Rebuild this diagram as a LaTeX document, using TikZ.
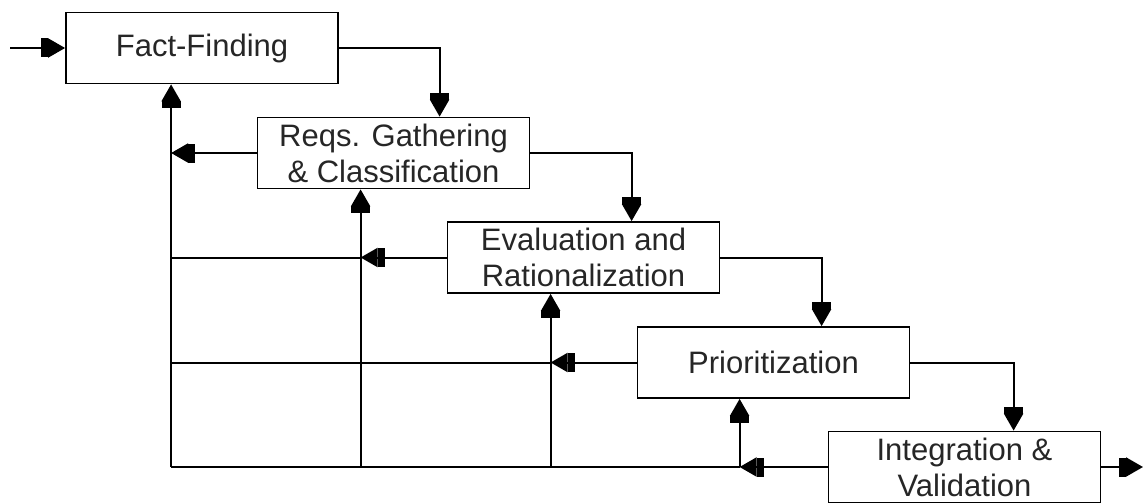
\documentclass[tikz,border=0pt]{standalone}
\usepackage{fontspec}
\setmainfont{Liberation Sans}
\usetikzlibrary{arrows.meta}
\begin{document}
\begin{tikzpicture}[x=1pt,y=-1pt,
  blk/.style={draw=black,line width=1.8pt,fill=white,minimum width=272pt,minimum height=71pt,inner sep=0pt,
    align=center,text=black!85,font=\fontsize{31}{36}\selectfont},
  arr/.style={line width=2pt,-{Rectangle[length=7pt,width=19pt,sep=0pt]Triangle[length=17pt,width=19pt,sep=0pt]}},
  ln/.style={line width=2pt}]
\useasboundingbox (0,0) rectangle (1145,503);
\node[blk] (ff) at (202,48) {Fact-Finding};
\node[blk] (rq) at (393.5,153) {Reqs. Gathering\\\& Classification};
\node[blk] (ev) at (583.5,257.5) {Evaluation and\\Rationalization};
\node[blk] (pr) at (773.5,362.5) {Prioritization};
\node[blk] (ig) at (964.5,467) {Integration \&\\Validation};
% down-connector targets
\coordinate (d1) at ([xshift=183pt]rq.north west);
\coordinate (d2) at ([xshift=185pt]ev.north west);
\coordinate (d3) at ([xshift=185pt]pr.north west);
\coordinate (d4) at ([xshift=186pt]ig.north west);
% feedback targets
\coordinate (u1) at ([xshift=106pt]ff.south west);
\coordinate (u2) at ([xshift=104pt]rq.south west);
\coordinate (u3) at ([xshift=104pt]ev.south west);
\coordinate (u4) at ([xshift=103pt]pr.south west);
\coordinate (in) at (10,48);
\coordinate (out) at (1143,467);
% forward flow
\draw[arr] (in) -- (ff.west);
\draw[arr] (ff.east) -| (d1);
\draw[arr] (rq.east) -| (d2);
\draw[arr] (ev.east) -| (d3);
\draw[arr] (pr.east) -| (d4);
\draw[arr] (ig.east) -- (out);
% feedback
\draw[arr] (rq.west) -- (u1 |- rq.west);
\draw[arr] (ev.west) -- (u2 |- ev.west);
\draw[ln] (u2 |- ev.west) -- (u1 |- ev.west);
\draw[arr] (pr.west) -- (u3 |- pr.west);
\draw[ln] (u3 |- pr.west) -- (u1 |- pr.west);
\draw[arr] (ig.west) -- (u4 |- ig.west);
\draw[ln] (u4 |- ig.west) -- (u1 |- ig.west);
\draw[arr] (u1 |- ig.west) -- (u1);
\draw[arr] (u2 |- ig.west) -- (u2);
\draw[arr] (u3 |- ig.west) -- (u3);
\draw[arr] (u4 |- ig.west) -- (u4);
\end{tikzpicture}
\end{document}
